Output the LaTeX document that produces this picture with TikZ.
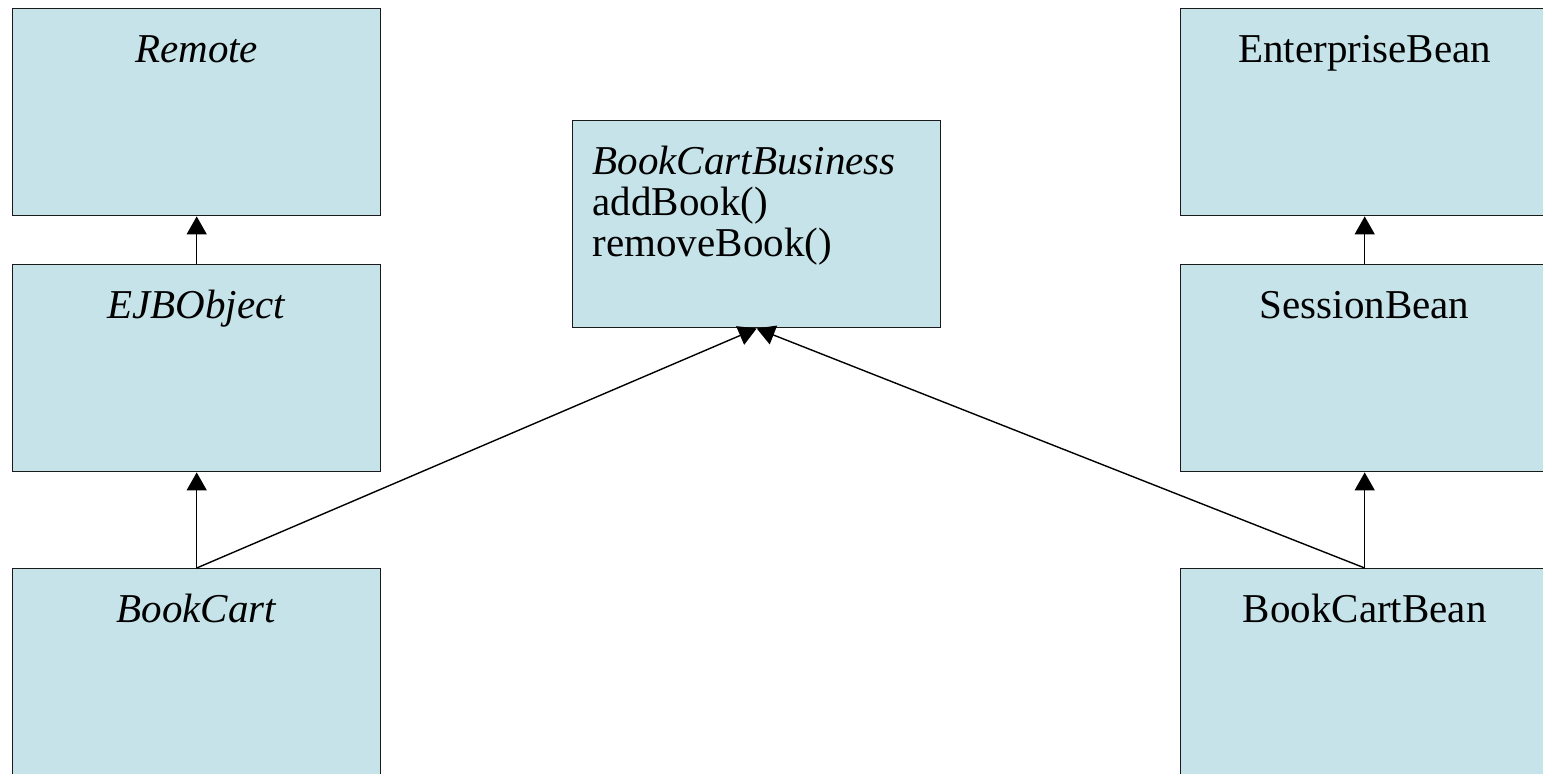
\documentclass[tikz,border=0pt]{standalone}
\usepackage{fontspec}
\setmainfont{Liberation Serif}
\usetikzlibrary{arrows.meta}
\definecolor{BoxFill}{HTML}{C5E3E8}
\definecolor{BoxLine}{HTML}{1A1A1A}

\begin{document}
\begin{tikzpicture}[x=1pt,y=-1pt,
  classbox/.style={draw=BoxLine,fill=BoxFill,line width=1.4pt,anchor=north west,
    minimum width=368pt,inner xsep=0pt,inner ysep=0pt,
    font=\fontsize{41}{41}\selectfont,text height=54pt,text depth=153pt},
  inherit/.style={-{Triangle[length=18pt,width=20pt]},line width=1.4pt}]
\useasboundingbox (0,0) rectangle (1543,774);
\clip (0,0) rectangle (1543,774);
% home interface side
\node[classbox] (remote) at (12,8) {\textit{Remote}};
\node[classbox] (ejbobject) at (12,264) {\textit{EJBObject}};
\node[classbox] (bookcart) at (12,568) {\textit{BookCart}};
% business interface
\node[classbox,text width=328pt,inner xsep=20pt,align=left] (business) at (572,120)
  {\textit{BookCartBusiness}\\addBook()\\removeBook()};
% bean side
\node[classbox] (enterprise) at (1180,8) {EnterpriseBean};
\node[classbox] (session) at (1180,264) {SessionBean};
\node[classbox] (bean) at (1180,568) {BookCartBean};
% generalisations
\draw[inherit] (ejbobject.north) -- (remote.south);
\draw[inherit] (bookcart.north) -- (ejbobject.south);
\draw[inherit] (bookcart.north) -- (business.south);
\draw[inherit] (session.north) -- (enterprise.south);
\draw[inherit] (bean.north) -- (session.south);
\draw[inherit] (bean.north) -- (business.south);
\end{tikzpicture}
\end{document}
